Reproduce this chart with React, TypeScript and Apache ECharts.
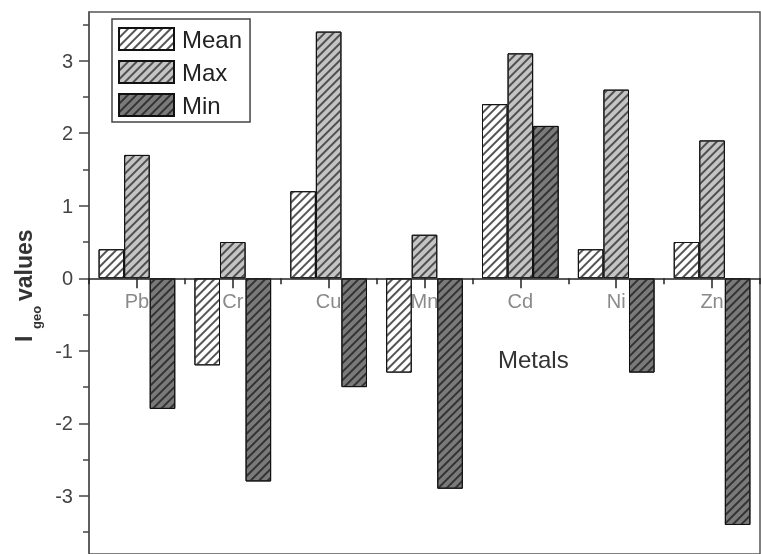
import React, { useEffect, useRef } from 'react';
import * as echarts from 'echarts';

const categories = ['Pb', 'Cr', 'Cu', 'Mn', 'Cd', 'Ni', 'Zn'];
const meanValues = [0.4, -1.2, 1.2, -1.3, 2.4, 0.4, 0.5];
const maxValues = [1.7, 0.5, 3.4, 0.6, 3.1, 2.6, 1.9];
const minValues = [-1.8, -2.8, -1.5, -2.9, 2.1, -1.3, -3.4];
const yMajorTicks = [-3, -2, -1, 0, 1, 2, 3];
const yMinorTicks = [-3.5, -2.5, -1.5, -0.5, 0.5, 1.5, 2.5, 3.5];
const seriesNames = ['Mean', 'Max', 'Min'];

const FONT = "'Liberation Sans', Arial, sans-serif";

const Y_MIN = -3.8;
const Y_MAX = 3.67;
const GRID_TOP = 12;
const GRID_H = 554 - GRID_TOP;

function hatch(color: string) {
  return {
    symbol: 'rect',
    symbolSize: 1,
    color,
    dashArrayX: [1, 0],
    dashArrayY: [1.4, 3.6],
    rotation: -Math.PI / 4,
  };
}

export default function App() {
  const ref = useRef<HTMLDivElement>(null);
  useEffect(() => {
    if (!ref.current) return;
    const chart = echarts.init(ref.current, undefined, { renderer: 'svg' });
    const fills = ['#ffffff', '#c4c4c4', '#7a7a7a'];
    const lines = ['#555555', '#505050', '#333333'];
    const values = [meanValues, maxValues, minValues];
    // distance from grid edges to the zero line
    const zeroFromTop = ((Y_MAX - 0) / (Y_MAX - Y_MIN)) * GRID_H;
    const zeroFromBottom = GRID_H - zeroFromTop;
    chart.setOption({
      animation: false,
      textStyle: { fontFamily: FONT },
      grid: {
        show: true,
        left: 89,
        right: 1,
        top: GRID_TOP,
        bottom: 0,
        borderColor: '#555',
        borderWidth: 1.5,
        containLabel: false,
        outerBoundsMode: 'none',
      },
      legend: {
        left: 112,
        top: 19,
        orient: 'vertical',
        itemWidth: 55,
        itemHeight: 22,
        itemGap: 9,
        icon: 'rect',
        padding: [8, 8, 5, 6],
        borderColor: '#444',
        borderWidth: 1.5,
        textStyle: { fontSize: 24, color: '#222', fontFamily: FONT, padding: [0, 0, 0, 3] },
        data: seriesNames,
      },
      xAxis: [
        {
          type: 'category',
          data: categories,
          position: 'bottom',
          offset: -zeroFromBottom,
          axisLine: { show: true, onZero: false, lineStyle: { color: '#222', width: 1.5 } },
          axisTick: { show: true, interval: 0, alignWithLabel: true, length: 10, lineStyle: { color: '#222', width: 1.5 } },
          axisLabel: { fontSize: 20, color: '#8a8a8a', margin: 13, fontFamily: FONT },
          splitLine: { show: false },
          z: 3,
        },
        {
          type: 'category',
          data: categories,
          position: 'top',
          offset: -zeroFromTop,
          axisLine: { show: false, onZero: false },
          axisTick: { show: true, interval: 0, alignWithLabel: false, inside: true, length: 6, lineStyle: { color: '#222', width: 1.5 } },
          axisLabel: { show: false },
          splitLine: { show: false },
          z: 3,
        },
      ],
      yAxis: [
        {
          type: 'value',
          min: Y_MIN,
          max: Y_MAX,
          position: 'left',
          axisLine: { show: true, onZero: false, lineStyle: { color: '#555', width: 1.5 } },
          axisTick: { show: true, customValues: yMajorTicks, length: 10, lineStyle: { color: '#444', width: 1.5 } },
          axisLabel: { customValues: yMajorTicks, fontSize: 20, color: '#444', margin: 16, fontFamily: FONT },
          splitLine: { show: false },
        },
        {
          type: 'value',
          min: Y_MIN,
          max: Y_MAX,
          position: 'left',
          axisLine: { show: false, onZero: false },
          axisTick: { show: true, customValues: yMinorTicks, length: 6, lineStyle: { color: '#444', width: 1.5 } },
          axisLabel: { show: false },
          splitLine: { show: false },
        },
      ],
      series: seriesNames.map((name, i) => ({
        name,
        type: 'bar',
        xAxisIndex: 0,
        yAxisIndex: 0,
        data: values[i],
        barGap: '0%',
        barCategoryGap: '20%',
        itemStyle: {
          color: fills[i],
          borderColor: '#111',
          borderWidth: 1,
          decal: hatch(lines[i]),
        },
      })),
      graphic: [
        {
          type: 'text',
          left: 498,
          top: 347,
          style: { text: 'Metals', fontSize: 24, fill: '#333', fontFamily: FONT },
        },
        {
          type: 'text',
          x: 12,
          y: 342,
          rotation: Math.PI / 2,
          style: { text: 'I', fontSize: 23, fontWeight: 'bold', fill: '#333', fontFamily: FONT },
        },
        {
          type: 'text',
          x: 30,
          y: 329,
          rotation: Math.PI / 2,
          style: { text: 'geo', fontSize: 13, fontWeight: 'bold', fill: '#333', fontFamily: FONT },
        },
        {
          type: 'text',
          x: 12,
          y: 301,
          rotation: Math.PI / 2,
          style: { text: 'values', fontSize: 23, fontWeight: 'bold', fill: '#333', fontFamily: FONT },
        },
      ],
    });
    return () => chart.dispose();
  }, []);
  return (
    <div
      ref={ref}
      style={{ position: 'fixed', left: 0, top: 0, width: 761, height: 554 }}
    />
  );
}
